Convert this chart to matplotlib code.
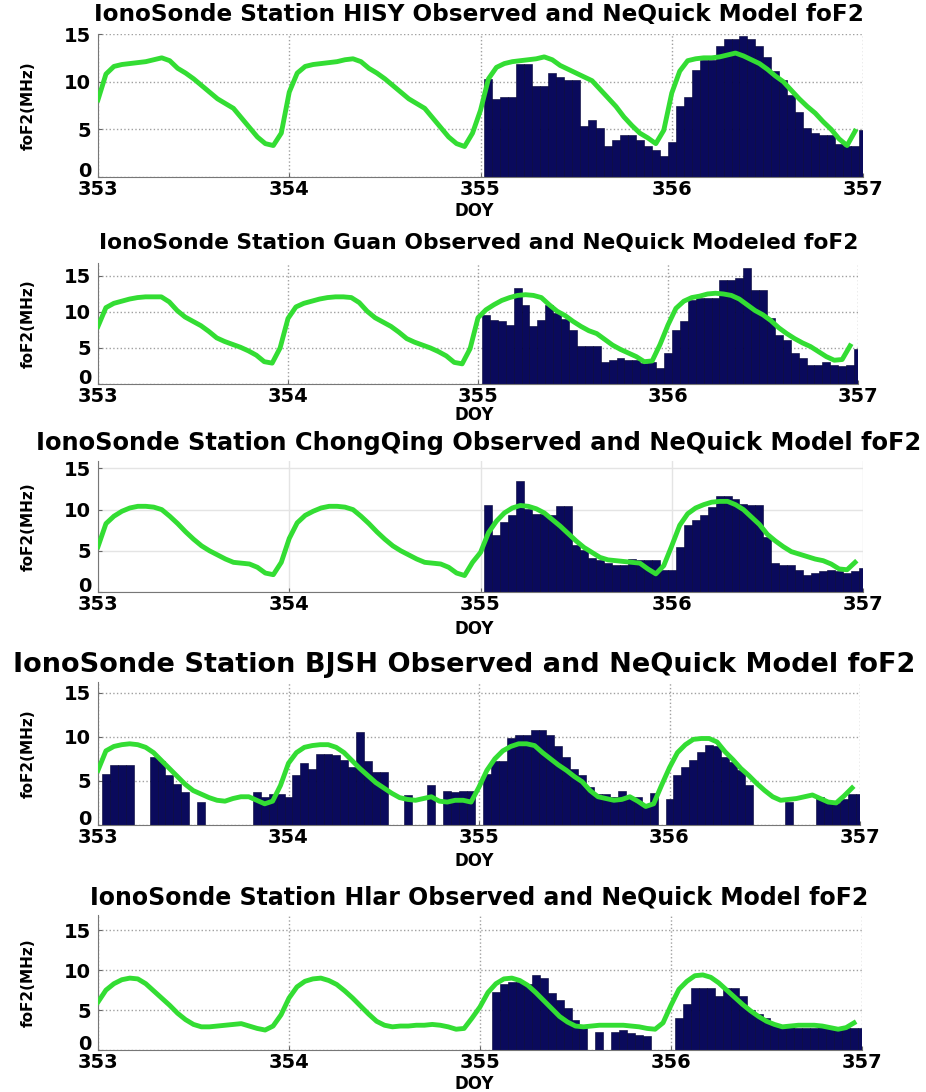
import numpy as np
import matplotlib
matplotlib.use('Agg')
import matplotlib.pyplot as plt

plt.rcParams['font.family'] = ['DejaVu Sans']
plt.rcParams['font.weight'] = 'bold'

# Станції та заголовки
stations = ['HISY', 'Guan', 'ChongQing', 'BJSH', 'Hlar']
titles = ['IonoSonde Station HISY Observed and NeQuick Model foF2',
          'IonoSonde Station Guan Observed and NeQuick Modeled foF2',
          'IonoSonde Station ChongQing Observed and NeQuick Model foF2',
          'IonoSonde Station BJSH Observed and NeQuick Model foF2',
          'IonoSonde Station Hlar Observed and NeQuick Model foF2']
doy_ticks = [353, 354, 355, 356, 357]
fof2_ticks = [0, 5, 10, 15]
ymax = [15, 16.8, 15.9, 16.2, 16.9]

# Модель NeQuick, погодинно з DOY 353.0 (96 значень)
model_hisy = [8.1, 10.8, 11.6, 11.8, 11.9, 12.0, 12.1, 12.3, 12.5, 12.2, 11.4, 10.9,
              10.3, 9.6, 8.9, 8.2, 7.7, 7.2, 6.2, 5.2, 4.2, 3.5, 3.3, 4.6,
              8.9, 10.9, 11.6, 11.8, 11.9, 12.0, 12.1, 12.3, 12.4, 12.1, 11.4, 10.9,
              10.3, 9.6, 8.9, 8.2, 7.7, 7.2, 6.2, 5.2, 4.2, 3.5, 3.2, 4.6,
              7.0, 10.3, 11.5, 11.9, 12.1, 12.2, 12.3, 12.4, 12.6, 12.3, 11.7, 11.3,
              10.9, 10.5, 10.1, 9.2, 8.3, 7.4, 6.3, 5.4, 4.6, 4.1, 3.5, 4.9,
              8.8, 11.1, 12.2, 12.4, 12.5, 12.5, 12.6, 12.8, 13.0, 12.7, 12.3, 11.9,
              11.3, 10.6, 10.0, 9.1, 8.2, 7.4, 6.7, 5.8, 5.0, 4.0, 3.3, 4.8]
model_guan = [8.0, 10.6, 11.2, 11.5, 11.8, 12.0, 12.1, 12.1, 12.1, 11.4, 10.2, 9.3,
              8.7, 8.1, 7.3, 6.4, 5.9, 5.5, 5.1, 4.6, 4.0, 3.1, 2.9, 5.0,
              9.1, 10.7, 11.2, 11.5, 11.8, 12.0, 12.1, 12.1, 12.0, 11.3, 10.1, 9.2,
              8.6, 8.0, 7.2, 6.3, 5.8, 5.4, 5.0, 4.5, 3.9, 3.0, 2.8, 4.9,
              9.2, 10.3, 11.0, 11.6, 12.0, 12.3, 12.4, 12.3, 12.0, 11.0, 10.1, 9.5,
              8.7, 8.0, 7.4, 7.0, 6.2, 5.4, 4.8, 4.3, 3.8, 3.1, 3.2, 5.5,
              8.2, 10.5, 11.5, 12.0, 12.2, 12.5, 12.6, 12.5, 12.3, 11.8, 11.0, 10.2,
              9.6, 8.8, 7.8, 7.0, 6.3, 5.7, 5.2, 4.5, 3.8, 3.3, 3.4, 5.3]
model_cq = [5.5, 8.3, 9.2, 9.8, 10.2, 10.4, 10.4, 10.3, 10.0, 9.2, 8.3, 7.3,
            6.4, 5.6, 5.0, 4.5, 4.0, 3.6, 3.5, 3.4, 3.0, 2.3, 2.1, 3.6,
            6.5, 8.4, 9.3, 9.8, 10.2, 10.4, 10.4, 10.3, 10.0, 9.2, 8.3, 7.3,
            6.4, 5.6, 5.0, 4.5, 4.0, 3.6, 3.5, 3.4, 3.0, 2.3, 2.0, 3.6,
            4.8, 7.2, 8.6, 9.6, 10.2, 10.5, 10.4, 10.1, 9.6, 8.8, 8.0, 7.1,
            6.2, 5.4, 4.8, 4.2, 3.9, 3.8, 3.7, 3.6, 3.5, 2.8, 2.2, 3.2,
            5.6, 8.1, 9.5, 10.2, 10.6, 10.9, 11.0, 11.0, 10.6, 10.0, 9.1, 8.2,
            7.0, 6.2, 5.5, 4.9, 4.6, 4.3, 4.0, 3.8, 3.4, 2.8, 2.7, 3.6]
model_bjsh = [6.2, 8.4, 8.9, 9.1, 9.2, 9.1, 8.8, 8.2, 7.3, 6.4, 5.5, 4.6,
              3.9, 3.5, 3.1, 2.8, 2.7, 3.0, 3.2, 3.2, 2.8, 2.4, 2.7, 4.5,
              7.0, 8.2, 8.8, 9.0, 9.1, 9.1, 8.8, 8.2, 7.3, 6.4, 5.6, 4.8,
              4.2, 3.6, 3.1, 2.9, 2.8, 3.0, 3.2, 2.7, 2.6, 2.8, 2.8, 2.6,
              4.3, 6.2, 7.5, 8.4, 8.9, 9.2, 9.2, 9.0, 8.2, 7.5, 6.8, 6.2,
              5.5, 4.9, 3.9, 3.2, 3.0, 2.8, 2.9, 3.2, 2.7, 2.1, 2.4, 4.5,
              6.5, 8.2, 9.1, 9.7, 9.8, 9.8, 9.4, 8.3, 7.4, 6.4, 5.6, 4.7,
              3.9, 3.2, 2.8, 2.9, 3.0, 3.2, 3.4, 3.0, 2.6, 2.5, 3.3, 4.2]
model_hlar = [6.0, 7.5, 8.3, 8.8, 9.0, 8.9, 8.3, 7.4, 6.5, 5.6, 4.6, 3.8,
              3.2, 2.9, 2.9, 3.0, 3.1, 3.2, 3.3, 3.0, 2.7, 2.5, 3.0, 4.4,
              6.5, 7.9, 8.6, 8.9, 9.0, 8.7, 8.2, 7.4, 6.5, 5.5, 4.5, 3.6,
              3.1, 2.9, 3.0, 3.0, 3.1, 3.1, 3.2, 3.1, 2.9, 2.6, 2.7, 4.0,
              5.4, 7.2, 8.3, 8.9, 9.0, 8.7, 8.1, 7.2, 6.2, 5.2, 4.2, 3.5,
              3.0, 2.9, 3.0, 3.1, 3.1, 3.1, 3.1, 3.0, 2.9, 2.7, 2.6, 3.4,
              5.6, 7.6, 8.6, 9.3, 9.4, 9.1, 8.4, 7.5, 6.6, 5.7, 4.9, 4.2,
              3.6, 3.2, 2.9, 3.0, 3.1, 3.1, 3.1, 3.0, 2.8, 2.6, 2.8, 3.4]

# Спостереження іонозонду, погодинно (nan = немає даних)
nan = np.nan
obs_hisy = [10.3, 8.2, 8.4, 8.4, 11.9, 11.9, 9.5, 9.5, 10.9, 10.5, 10.2, 10.2,
            5.3, 6.0, 5.1, 3.3, 3.9, 4.4, 4.4, 3.9, 3.2, 2.8, 2.2, 3.7,
            7.4, 8.4, 11.2, 12.3, 12.3, 13.7, 14.5, 14.5, 14.8, 14.5, 13.7, 12.6,
            11.1, 10.2, 8.6, 6.8, 5.1, 4.6, 4.4, 4.4, 3.5, 3.2, 3.3, 4.9]
obs_guan = [9.6, 8.9, 8.8, 8.2, 13.3, 11.0, 8.0, 8.9, 11.0, 9.8, 9.0, 7.5,
            5.3, 5.3, 5.3, 3.0, 3.3, 3.6, 3.4, 3.3, 2.9, 3.1, 2.2, 4.3,
            7.5, 8.7, 11.7, 11.9, 11.9, 11.9, 14.4, 14.5, 14.7, 16.1, 13.1, 13.1,
            9.1, 6.8, 6.1, 4.3, 3.6, 2.6, 2.6, 3.1, 2.6, 2.5, 2.6, 4.8]
obs_cq = [10.5, 6.9, 8.5, 9.3, 13.5, 10.1, 9.5, 9.5, 9.3, 10.4, 10.4, 5.7,
          5.1, 4.1, 3.9, 3.5, 3.3, 3.3, 4.0, 3.9, 3.9, 3.9, 2.7, 2.7,
          5.5, 8.1, 8.7, 9.3, 10.3, 11.6, 11.6, 11.3, 10.7, 10.5, 10.5, 6.7,
          3.5, 3.3, 3.3, 2.7, 2.1, 2.3, 2.5, 2.7, 2.5, 2.3, 2.5, 2.9]
obs_bjsh = [5.8, 6.8, 6.8, 6.8, nan, nan, 7.7, 7.2, 5.7, 4.7, 3.7, nan,
            2.6, nan, nan, nan, nan, nan, nan, 3.7, 3.2, 3.5, 3.5, 3.2,
            5.7, 7.0, 6.3, 8.0, 8.0, 7.9, 7.4, 6.6, 10.5, 7.2, 6.0, 6.0,
            nan, nan, 3.4, nan, nan, 4.5, nan, 3.8, 3.7, 3.8, 3.8, nan,
            5.8, 7.2, 7.2, 9.9, 10.2, 10.2, 10.8, 10.8, 10.2, 8.9, 7.7, 6.4,
            5.7, 4.3, 3.5, 3.5, 3.2, 3.8, 3.2, 3.2, 2.3, 3.6, nan, 3.0,
            5.7, 6.6, 7.4, 8.3, 9.1, 9.0, 7.7, 7.1, 6.2, 4.5, nan, nan,
            nan, nan, 2.6, nan, nan, nan, 3.2, 2.6, 2.5, 2.9, 3.5, 3.5]
obs_hlar = [nan, 7.3, 8.3, 8.5, 8.5, 8.3, 9.4, 9.0, 7.1, 6.3, 5.2, 3.8,
            2.7, nan, 2.3, nan, 2.3, 2.5, 2.1, 1.9, 1.7, nan, nan, nan,
            4.0, 5.8, 7.7, 7.7, 7.7, 6.7, 7.7, 7.7, 6.7, 5.0, 4.5, 4.0,
            3.3, 3.0, 2.9, 2.7, 2.7, 2.8, 2.9, 2.8, 2.7, 2.7, 2.7, 2.7]
obs_start = [355, 355, 355, 353, 355]

models = [model_hisy, model_guan, model_cq, model_bjsh, model_hlar]
observed = [obs_hisy, obs_guan, obs_cq, obs_bjsh, obs_hlar]

# Розміщення панелей у пікселях: (ліво, верх, право, низ)
W, H = 926, 1092
boxes = [(98, 34, 863, 177), (98, 263, 858, 384), (98, 461, 863, 592),
         (98, 682, 860, 825), (98, 915, 862, 1050)]
title_x = [479, 479, 479, 464, 479]
title_y = [15, 243, 443, 665, 897]
title_size = [16.7, 15.7, 17.4, 19.5, 17]
doy_y = [211, 415, 629, 861, 1084]

fig = plt.figure(figsize=(W / 100, H / 100), dpi=100)

for k in range(5):
    l, t, r, b = boxes[k]
    ax = fig.add_axes([l / W, 1 - b / H, (r - l) / W, (b - t) / H])

    # Спостереження: стовпчики по годинах
    obs = np.array(observed[k], dtype=float)
    xo = obs_start[k] + (np.arange(len(obs)) + 1) / 24
    ax.bar(xo, obs, width=1 / 24, color='#0a0a5c', edgecolor='#000033',
           linewidth=0.4, zorder=2)

    # Модель NeQuick
    xm = 353 + np.arange(len(models[k])) / 24
    ax.plot(xm, models[k], color='#33dd33', linewidth=3.5, zorder=3)

    ax.set_xlim(353, 357)
    ax.set_ylim(0, ymax[k])
    ax.set_xticks(doy_ticks)
    ax.set_yticks(fof2_ticks)
    ax.tick_params(labelsize=14, direction='in', length=3, width=0.8,
                   color='#666666')
    ax.tick_params(axis='x', pad=2)
    ax.tick_params(axis='y', pad=5)
    # нуль трохи вище осі, щоб не налазив на 353
    ax.yaxis.get_major_ticks()[0].label1.set_verticalalignment('baseline')

    if k == 2:
        ax.grid(True, linestyle='-', color='#e4e4e4', linewidth=1, zorder=0)
    else:
        ax.grid(True, linestyle=':', color='#a0a0a0', linewidth=1, zorder=0)
    ax.set_axisbelow(True)
    for s in ['top', 'right']:
        ax.spines[s].set_visible(False)
    for s in ['left', 'bottom']:
        ax.spines[s].set_color('#777777')

    fig.text(title_x[k] / W, 1 - title_y[k] / H, titles[k], ha='center',
             va='center', fontsize=title_size[k], fontweight='bold')
    fig.text(474 / W, 1 - doy_y[k] / H, 'DOY', ha='center', va='center',
             fontsize=12, fontweight='bold')
    fig.text(28 / W, 1 - (t + b) / 2 / H, 'foF2(MHz)', rotation=90,
             ha='center', va='center', fontsize=11, fontweight='bold')

fig.savefig('out.png', dpi=100, facecolor='white')
